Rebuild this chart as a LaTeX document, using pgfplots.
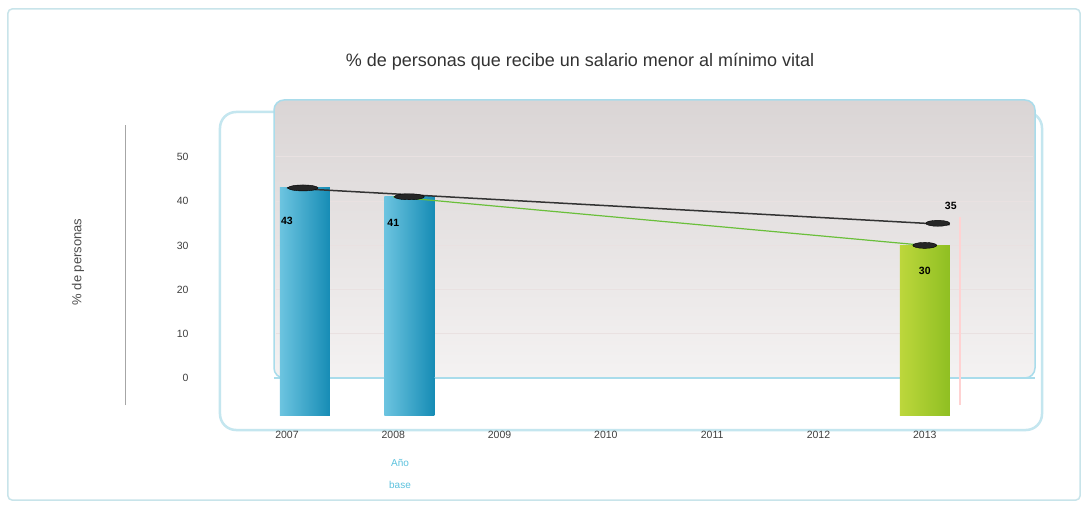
\documentclass[border=0pt]{standalone}
\usepackage{pgfplots}
\pgfplotsset{compat=1.18}
\usepackage{fontspec}
\setmainfont{Liberation Sans}
\definecolor{panelTop}{HTML}{DAD5D5}
\definecolor{panelBot}{HTML}{F4F2F2}
\definecolor{cyanEdge}{HTML}{A9DCEB}
\definecolor{wallEdge}{HTML}{C4E6EF}
\definecolor{frameEdge}{HTML}{C8E4EA}
\definecolor{blueL}{HTML}{6CC4E0}
\definecolor{blueR}{HTML}{168CB5}
\definecolor{greenL}{HTML}{BDD73C}
\definecolor{greenR}{HTML}{8FBF22}
\definecolor{baseCyan}{HTML}{5CC2DE}
\definecolor{gridC}{HTML}{E9E1E1}
\definecolor{lineGreen}{HTML}{6ABF3A}
\begin{document}
\begin{tikzpicture}
\path[use as bounding box] (-262pt,-79pt) rectangle (824pt,427pt);
\fill[white] (-262pt,-79pt) rectangle (824pt,427pt);
\draw[frameEdge, line width=1.5pt, rounded corners=4pt] (-254pt,-73pt) rectangle (818pt,418pt);
% 3D wall / floor frame
\draw[wallEdge, line width=2.5pt, fill=white, rounded corners=16pt] (-42pt,-3pt) rectangle (780pt,315pt);
% back panel
\shade[top color=panelTop, bottom color=panelBot, rounded corners=10pt] (12pt,49pt) rectangle (773pt,327pt);
\draw[cyanEdge, line width=1.5pt, rounded corners=10pt] (12pt,49pt) rectangle (773pt,327pt);
% grid lines (10..50)
\foreach \g in {93.2,137.4,181.6,225.8,270.0}{
  \draw[gridC, line width=1pt] (14pt,\g pt) -- (771pt,\g pt);
}
% floor line at 0
\draw[cyanEdge, line width=2.5pt] (12pt,49pt) -- (773pt,49pt);
% pink edge
\draw[pink!70, line width=1.5pt] (698pt,22pt) -- (698pt,210pt);
% y axis line
\draw[gray!70, line width=0.8pt] (-137pt,22pt) -- (-137pt,302pt);
% y label
\node[rotate=90, font=\fontsize{13}{15}\selectfont, text=black!70] at (-184pt,165pt) {\% de personas};
% title
\node[font=\fontsize{18}{21}\selectfont, text=black!80] at (318pt,365pt) {\% de personas que recibe un salario menor al mínimo vital};
% base year
\node[font=\fontsize{10}{12}\selectfont, text=baseCyan] at (138pt,-36pt) {Año};
\node[font=\fontsize{10}{12}\selectfont, text=baseCyan] at (138pt,-58pt) {base};
\begin{axis}[
  at={(0pt,0pt)}, anchor=south west,
  scale only axis, width=773pt, height=327pt,
  xmin=-0.235, xmax=7.037, ymin=-11.1, ymax=62.9,
  clip=false,
  axis line style={draw=none}, tick style={draw=none},
  xtick={0,1,2,3,4,5,6},
  xticklabels={2007,2008,2009,2010,2011,2012,2013},
  ytick={0,10,20,30,40,50},
  /pgf/number format/assume math mode=true,
  ticklabel style={font=\fontsize{10.5}{12}\selectfont, text=black!75},
  yticklabel style={xshift=-70pt},
  xticklabel style={yshift=-1pt},
  every node near coord/.style={anchor=center, yshift=-26pt, font=\bfseries\fontsize{10.5}{12}\selectfont, text=black},
]
% bars
\addplot[ybar, bar width=50pt, bar shift=18pt, draw=none, left color=blueL, right color=blueR, nodes near coords,
  every node near coord/.append style={yshift=-7pt}] coordinates {(0,43)};
\addplot[ybar, bar width=50pt, bar shift=18pt, draw=none, left color=blueL, right color=blueR] coordinates {(0,-8.5)};
\addplot[ybar, bar width=50pt, bar shift=16pt, draw=none, left color=blueL, right color=blueR, nodes near coords] coordinates {(1,41)};
\addplot[ybar, bar width=50pt, bar shift=16pt, draw=none, left color=blueL, right color=blueR] coordinates {(1,-8.5)};
\addplot[ybar, bar width=50pt, bar shift=0pt, draw=none, left color=greenL, right color=greenR, nodes near coords] coordinates {(6,30)};
\addplot[ybar, bar width=50pt, bar shift=0pt, draw=none, left color=greenL, right color=greenR] coordinates {(6,-8.5)};
% lines
\addplot[lineGreen, line width=1.2pt] coordinates {(1,41) (6,30)};
\addplot[black!80, line width=1.5pt, shorten >=-25pt] coordinates {(0,43) (6,35)};
% caps
\addplot[only marks, mark=*, mark size=3pt, mark options={xshift=16pt, xscale=5, fill=black!85, draw=none}] coordinates {(0,43) (1,41)};
\addplot[only marks, mark=*, mark size=3pt, mark options={xscale=4, fill=black!85, draw=none}] coordinates {(6,30)};
\addplot[only marks, mark=*, mark size=3pt, mark options={xshift=13pt, xscale=4, fill=black!85, draw=none},
  nodes near coords, every node near coord/.style={anchor=south, yshift=10pt, xshift=13pt, font=\bfseries\fontsize{10.5}{12}\selectfont, text=black}] coordinates {(6,35)};
\end{axis}
\end{tikzpicture}
\end{document}
